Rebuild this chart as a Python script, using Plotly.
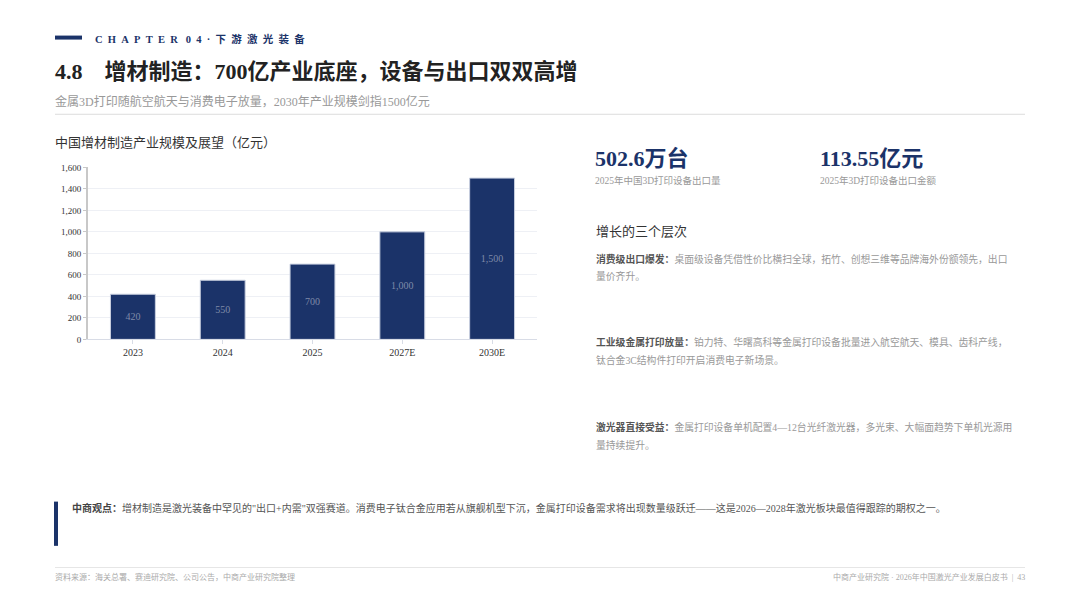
import plotly.graph_objects as go

years = ["2023", "2024", "2025", "2027E", "2030E"]
scale = [420, 550, 700, 1000, 1500]
scale_labels = ["420", "550", "700", "1,000", "1,500"]

W, H = 1064, 592
OFF = 8
NAVY = "#1b3369"
SERIF = "Liberation Serif, Noto Sans CJK SC, serif"


def px(x):
    return (x - OFF) / W


def py(y):
    return 1 - (y - OFF) / H


fig = go.Figure(
    go.Bar(
        x=years, y=scale, width=0.5,
        marker=dict(color=NAVY, line=dict(color="#c9d0e0", width=1)),
        text=scale_labels, textposition="inside", insidetextanchor="middle",
        textfont=dict(color="#7f8aa8", size=10, family=SERIF),
        hoverinfo="skip",
    )
)

fig.update_layout(
    width=W, height=H, margin=dict(l=0, r=0, t=0, b=0),
    paper_bgcolor="white", plot_bgcolor="white", showlegend=False,
    font=dict(family=SERIF, color="#333"),
    xaxis=dict(domain=[px(88), px(537)], showline=True, linecolor="#d8dce6",
               ticks="outside", tickcolor="#d8dce6", ticklen=4,
               tickfont=dict(size=10, color="#333")),
    yaxis=dict(domain=[py(340), py(165)], range=[0, 1600], dtick=200,
               tickformat=",", gridcolor="#eef0f5", showline=True,
               linecolor="#c8c8c8", linewidth=2, ticks="outside",
               tickcolor="#c8c8c8", ticklen=3, zeroline=False,
               tickfont=dict(size=9, color="#333")),
)

shapes = [
    dict(type="line", xref="paper", yref="paper", x0=px(55), x1=px(82), y0=py(33), y1=py(33),
         line=dict(color=NAVY, width=4)),
    dict(type="line", xref="paper", yref="paper", x0=px(55), x1=px(1025), y0=py(111), y1=py(111),
         line=dict(color="#dcdcdc", width=1)),
    dict(type="rect", xref="paper", yref="paper", x0=px(54), x1=px(58), y0=py(550), y1=py(505),
         fillcolor=NAVY, line=dict(width=0)),
    dict(type="line", xref="paper", yref="paper", x0=px(55), x1=px(1025), y0=py(572), y1=py(572),
         line=dict(color="#e6e6e6", width=1)),
]
fig.update_layout(shapes=shapes)


def txt(x, y, s, size, color="#333", anchor="left"):
    fig.add_annotation(x=px(x), y=py(y), xref="paper", yref="paper", text=s, showarrow=False,
                       xanchor=anchor, yanchor="middle", align="left",
                       font=dict(size=size, color=color, family=SERIF))


chapter = "&nbsp;&nbsp;".join("CHAPTER") + "&nbsp;&nbsp;&nbsp;0&nbsp;&nbsp;4&nbsp;&nbsp;·&nbsp;&nbsp;" + "&nbsp;&nbsp;".join("下游激光装备")
txt(93, 34, "<b>" + chapter + "</b>", 10.5, NAVY)
txt(53, 68, "<b>4.8    增材制造：700亿产业底座，设备与出口双双高增</b>", 22, "#222")
txt(53, 98, "金属3D打印随航空航天与消费电子放量，2030年产业规模剑指1500亿元", 12, "#999")
txt(53, 140, "中国增材制造产业规模及展望（亿元）", 13, "#333")

txt(593, 156, "<b>502.6万台</b>", 22, NAVY)
txt(818, 156, "<b>113.55亿元</b>", 22, NAVY)
txt(593, 178, "2025年中国3D打印设备出口量", 9.5, "#999")
txt(818, 178, "2025年3D打印设备出口金额", 9.5, "#999")
txt(594, 230, "增长的三个层次", 13, "#333")

G = "#999"
paras = [
    (258, "消费级出口爆发：", "桌面级设备凭借性价比横扫全球，拓竹、创想三维等品牌海外份额领先，出口", 276, "量价齐升。"),
    (343, "工业级金属打印放量：", "铂力特、华曙高科等金属打印设备批量进入航空航天、模具、齿科产线，", 361, "钛合金3C结构件打印开启消费电子新场景。"),
    (429, "激光器直接受益：", "金属打印设备单机配置4—12台光纤激光器，多光束、大幅面趋势下单机光源用", 447, "量持续提升。"),
]
for y1, head, l1, y2, l2 in paras:
    txt(594, y1, "<span style='color:#555'><b>" + head + "</b></span>" + l1, 9.8, G)
    txt(594, y2, l2, 9.8, G)

txt(70, 512, "<span style='color:#444'><b>中商观点：</b></span>增材制造是激光装备中罕见的\"出口+内需\"双强赛道。消费电子钛合金应用若从旗舰机型下沉，金属打印设备需求将出现数量级跃迁——这是2026—2028年激光板块最值得跟踪的期权之一。", 10, "#555")
txt(53, 582, "资料来源：海关总署、赛迪研究院、公司公告，中商产业研究院整理", 8, "#aaa")
txt(1027, 582, "中商产业研究院 · 2026年中国激光产业发展白皮书  |  43", 8, "#aaa", "right")

fig.write_html("out.html")
